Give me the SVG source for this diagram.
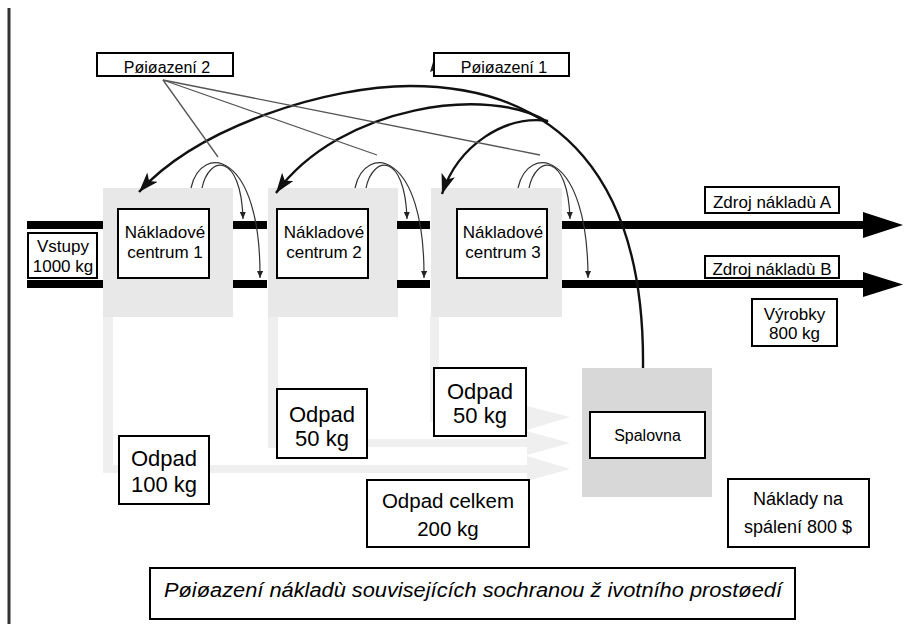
<svg xmlns="http://www.w3.org/2000/svg" width="905" height="631" viewBox="0 0 905 631">
  <style>
    .lbl { fill: #fff; stroke: #000; stroke-width: 2; }
    .t { font-family: "Liberation Sans", Arial, sans-serif; fill: #000; text-anchor: middle; }
    .cc { fill: #e8e8e8; }
    .ch { fill: #efefef; }
    .bar { stroke: #000; stroke-width: 8; }
    .arc { fill: none; stroke: #111; stroke-width: 2.4; }
    .hook { fill: none; stroke: #333; stroke-width: 1.2; }
    .fan { fill: none; stroke: #555; stroke-width: 1.3; }
  </style>
  <defs>
    <marker id="bigHead" markerUnits="userSpaceOnUse" markerWidth="22" markerHeight="14" refX="20" refY="7" orient="auto">
      <path d="M0,0 L20,7 L0,14 L5,7 z" fill="#111"/>
    </marker>
    <marker id="smallHead" markerUnits="userSpaceOnUse" markerWidth="7" markerHeight="6" refX="7" refY="3" orient="auto">
      <path d="M0,0 L7,3 L0,6 z" fill="#222"/>
    </marker>
  </defs>

  <rect width="905" height="631" fill="#fff"/>
  <!-- page margin rule -->
  <line x1="9" y1="8" x2="9" y2="624" stroke="#333" stroke-width="3"/>

  <!-- waste channels feeding the incinerator -->
  <g id="waste-channels">
    <rect class="ch" x="103" y="317" width="10" height="156"/>
    <rect class="ch" x="103" y="465" width="430" height="8"/>
    <rect class="ch" x="268" y="317" width="10" height="131"/>
    <rect class="ch" x="268" y="439" width="265" height="8"/>
    <rect class="ch" x="430" y="317" width="9" height="105"/>
    <rect class="ch" x="430" y="413" width="103" height="8"/>
    <path class="ch" d="M527,406 L570,417 L527,430 z"/>
    <path class="ch" d="M527,431 L570,443 L527,455 z"/>
    <path class="ch" d="M527,456 L570,469 L527,481 z"/>
  </g>

  <!-- cost centres -->
  <g id="centre1">
    <rect class="cc" x="103" y="188" width="130" height="129"/>
    <rect class="lbl" x="118" y="209" width="91" height="69"/>
    <text class="t" x="165" y="238" font-size="17">Nákladové</text>
    <text class="t" x="165" y="258" font-size="17">centrum 1</text>
  </g>
  <g id="centre2">
    <rect class="cc" x="268" y="188" width="130" height="129"/>
    <rect class="lbl" x="277" y="209" width="91" height="69"/>
    <text class="t" x="324" y="238" font-size="17">Nákladové</text>
    <text class="t" x="324" y="258" font-size="17">centrum 2</text>
  </g>
  <g id="centre3">
    <rect class="cc" x="431" y="188" width="131" height="129"/>
    <rect class="lbl" x="457" y="209" width="90" height="69"/>
    <text class="t" x="503" y="238" font-size="17">Nákladové</text>
    <text class="t" x="503" y="258" font-size="17">centrum 3</text>
  </g>

  <!-- incinerator -->
  <g id="incinerator">
    <rect x="582" y="368" width="130" height="129" fill="#d8d8d8"/>
    <rect class="lbl" x="590" y="412" width="115" height="46"/>
    <text class="t" x="647.5" y="441" font-size="16">Spalovna</text>
  </g>

  <!-- material / cost flows -->
  <g id="connectors">
    <line class="bar" x1="27" y1="225" x2="103" y2="225"/>
    <line class="bar" x1="27" y1="284" x2="103" y2="284"/>
    <line class="bar" x1="233" y1="225" x2="267" y2="225"/>
    <line class="bar" x1="233" y1="284" x2="267" y2="284"/>
    <line class="bar" x1="397" y1="225" x2="430" y2="225"/>
    <line class="bar" x1="397" y1="284" x2="430" y2="284"/>
    <line class="bar" x1="562" y1="225" x2="866" y2="225"/>
    <line class="bar" x1="562" y1="284" x2="866" y2="284"/>
    <path d="M863,212 L903,225 L863,238 z" fill="#000"/>
    <path d="M863,272 L903,284.5 L863,297 z" fill="#000"/>

    <!-- allocation arcs from the incinerator back to the centres -->
    <path class="arc" d="M643,368 C645,180 560,86 410,86 C330,86 200,125 139,192" marker-end="url(#bigHead)"/>
    <path class="arc" d="M548,122 C490,85 340,105 276,193" marker-end="url(#bigHead)"/>
    <path class="arc" d="M548,121 C505,115 458,145 442,194" marker-end="url(#bigHead)"/>
    <path d="M430,72 L433,62 L435,70 z" fill="#222"/>

    <!-- internal transfers between neighbouring centres -->
    <path class="hook" d="M191,188 C201,143 261,150 260,278" marker-end="url(#smallHead)"/>
    <path class="hook" d="M202,188 C209,155 241,152 243,219" marker-end="url(#smallHead)"/>
    <path class="hook" d="M355,188 C365,143 425,150 424,278" marker-end="url(#smallHead)"/>
    <path class="hook" d="M366,188 C373,155 405,152 407,219" marker-end="url(#smallHead)"/>
    <path class="hook" d="M518,188 C528,143 588,150 588,278" marker-end="url(#smallHead)"/>
    <path class="hook" d="M529,188 C536,155 568,152 570,219" marker-end="url(#smallHead)"/>

    <!-- allocation key 2 pointers -->
    <line class="fan" x1="163" y1="80" x2="218" y2="157"/>
    <line class="fan" x1="163" y1="80" x2="377" y2="155"/>
    <line class="fan" x1="163" y1="80" x2="540" y2="155"/>
  </g>

  <!-- labels -->
  <g id="inputs">
    <rect class="lbl" x="28" y="233" width="69" height="45"/>
    <text class="t" x="63" y="252" font-size="17">Vstupy</text>
    <text class="t" x="63" y="272" font-size="17">1000 kg</text>
  </g>
  <g id="source-a">
    <rect class="lbl" x="705" y="187" width="134" height="26"/>
    <text class="t" x="772" y="208" font-size="17">Zdroj nákladù A</text>
  </g>
  <g id="source-b">
    <rect class="lbl" x="705" y="256" width="134" height="22"/>
    <text class="t" x="772" y="275" font-size="17">Zdroj nákladù B</text>
  </g>
  <g id="products">
    <rect class="lbl" x="752" y="299" width="85" height="47"/>
    <text class="t" x="794.5" y="320" font-size="17">Výrobky</text>
    <text class="t" x="794.5" y="339" font-size="17">800 kg</text>
  </g>
  <g id="waste1">
    <rect class="lbl" x="119" y="436" width="90" height="68"/>
    <text class="t" x="164" y="466" font-size="22">Odpad</text>
    <text class="t" x="164" y="492" font-size="22">100 kg</text>
  </g>
  <g id="waste2">
    <rect class="lbl" x="277" y="389" width="90" height="69"/>
    <text class="t" x="322" y="422" font-size="22">Odpad</text>
    <text class="t" x="322" y="446" font-size="22">50 kg</text>
  </g>
  <g id="waste3">
    <rect class="lbl" x="434" y="368" width="92" height="68"/>
    <text class="t" x="480" y="399" font-size="22">Odpad</text>
    <text class="t" x="480" y="423" font-size="22">50 kg</text>
  </g>
  <g id="waste-total">
    <rect class="lbl" x="367" y="480" width="162" height="67"/>
    <text class="t" x="448" y="508" font-size="20.5">Odpad celkem</text>
    <text class="t" x="448" y="536" font-size="20.5">200 kg</text>
  </g>
  <g id="incineration-cost">
    <rect class="lbl" x="728" y="479" width="141" height="68"/>
    <text class="t" x="798" y="505" font-size="18">Náklady na</text>
    <text class="t" x="798" y="533" font-size="18">spálení 800 $</text>
  </g>
  <g id="key2">
    <rect class="lbl" x="97" y="53" width="136" height="23"/>
    <text class="t" x="167" y="73" font-size="16">Pøiøazení 2</text>
  </g>
  <g id="key1">
    <rect class="lbl" x="434" y="53" width="135" height="23"/>
    <text class="t" x="504" y="73" font-size="16">Pøiøazení 1</text>
  </g>
  <g id="caption">
    <rect class="lbl" x="150" y="568" width="645" height="51"/>
    <text class="t" x="473" y="597" font-size="20" font-style="italic" textLength="618" lengthAdjust="spacingAndGlyphs">Pøiøazení nákladù souvisejících sochranou ž ivotního prostøedí</text>
  </g>
</svg>
